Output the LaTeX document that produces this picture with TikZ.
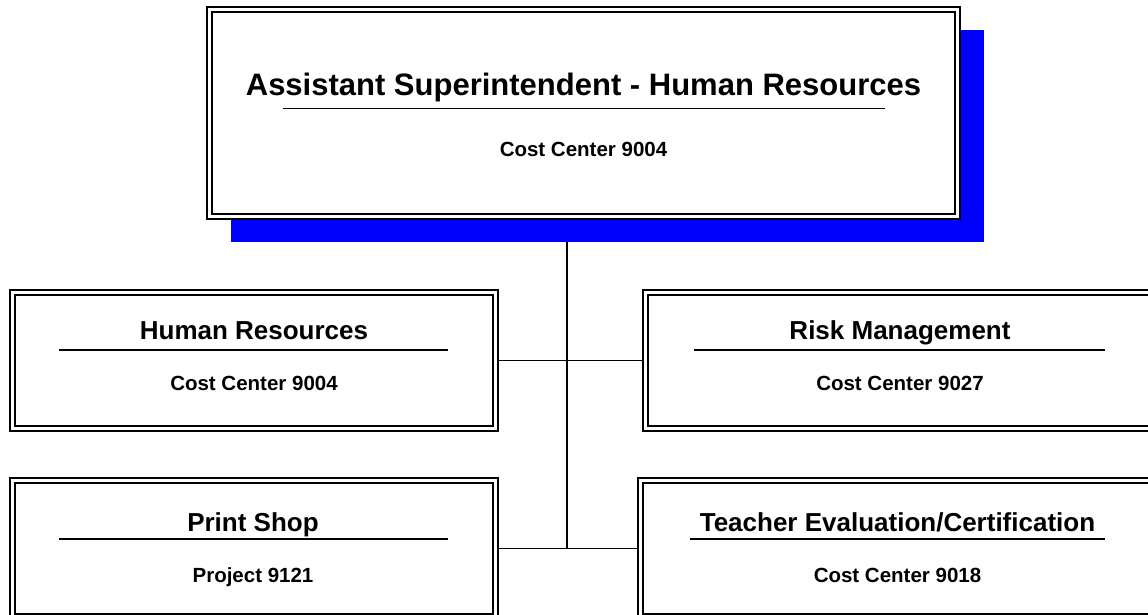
\documentclass[tikz,border=0pt]{standalone}
\usepackage{fontspec}
\setmainfont{Liberation Sans}

\begin{document}
\begin{tikzpicture}[x=1pt,y=-1pt,
    box/.style={draw,double,double distance=3.4pt,line width=1.6pt,fill=white,
      inner sep=0pt,outer sep=3.3pt},
    headline/.style={anchor=base,font=\bfseries\fontsize{26}{30}\selectfont},
    costline/.style={anchor=base,font=\bfseries\fontsize{20.5}{24}\selectfont},
    rule/.style={line width=1.5pt}]
  \useasboundingbox (0,0) rectangle (1148,615);
  \clip (0,0) rectangle (1148,615);

  % hubs on the trunk
  \coordinate (hub1) at (567,360.5);
  \coordinate (hub2) at (567,548.5);

  % top box with its blue shadow
  \draw
    (607.5,136) node[fill=blue,inner sep=0pt,minimum width=753,minimum height=212] (topshadow){}
    (583.5,113) node[box,minimum width=748,minimum height=207] (top){};
  \draw[rule] (hub1 |- topshadow.south) -- (hub2);

  % the four departments
  \draw
    (254,360.5) node[box,minimum width=483,minimum height=136] (hr){}
    (900,360.5) node[box,minimum width=509,minimum height=136] (risk){}
    (254,548.5) node[box,minimum width=483,minimum height=136] (print){}
    (897.5,548.5) node[box,minimum width=514,minimum height=136] (teacher){};
  \draw[rule] (hr.east) -- (risk.west);
  \draw[rule] (print.east) -- (teacher.west);

  % titles, rules and cost centers
  \node[headline,font=\bfseries\fontsize{31}{36}\selectfont] (toptitle) at (583.5,96) {Assistant Superintendent - Human Resources};
  \draw[rule] (283,108.3) -- (885,108.3);
  \node[costline] (topcost) at (583.5,156.5) {Cost Center 9004};

  \node[headline] (hrtitle) at (254,339) {Human Resources};
  \draw[rule] (59,350) -- (448,350);
  \node[costline] (hrcost) at (254,390) {Cost Center 9004};

  \node[headline] (risktitle) at (900,339) {Risk Management};
  \draw[rule] (694,350) -- (1105,350);
  \node[costline] (riskcost) at (900,390) {Cost Center 9027};

  \node[headline] (printtitle) at (253,531) {Print Shop};
  \draw[rule] (59,539) -- (448,539);
  \node[costline] (printcost) at (253,582) {Project 9121};

  \node[headline] (teachertitle) at (897.5,531) {Teacher Evaluation/Certification};
  \draw[rule] (690,539) -- (1105,539);
  \node[costline] (teachercost) at (897.5,582) {Cost Center 9018};
\end{tikzpicture}
\end{document}
